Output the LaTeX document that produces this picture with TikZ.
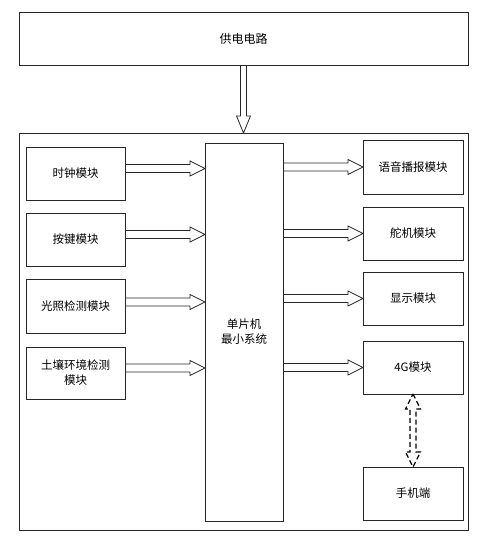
\documentclass[tikz,border=0pt]{standalone}
\usepackage{fontspec}
\newfontfamily\cjk{Noto Sans CJK SC}
\usetikzlibrary{calc}
\tikzset{
  box/.style={draw=black!85, line width=0.9pt, rectangle, inner sep=0pt, outer sep=0pt, align=center, font=\cjk\fontsize{11.5}{15}\selectfont},
  blockarrow/.style={draw=black!85, line width=0.8pt, line join=miter},
}
\newcommand\harrow[2]{\draw[blockarrow] let \p1=#1, \p2=#2 in (\x1,\y1+4pt) -- (\x2-15pt,\y1+4pt) -- (\x2-15pt,\y1+7.5pt) -- (\x2,\y1) -- (\x2-15pt,\y1-7.5pt) -- (\x2-15pt,\y1-4pt) -- (\x1,\y1-4pt);}
\begin{document}
\begin{tikzpicture}[x=1pt,y=-1pt]
\useasboundingbox (0,0) rectangle (481,538);
\node[box, minimum width=449pt, minimum height=53pt, font=\cjk\fontsize{12}{15}\selectfont] (power) at (243.5,38.5) {供电电路};
\node[box, minimum width=449pt, minimum height=397pt] (outer) at (243.5,331.5) {};
\node[box, minimum width=99pt, minimum height=53pt] (clk) at (75.5,173.5) {时钟模块};
\node[box, minimum width=99pt, minimum height=53pt] (key) at (75.5,239.5) {按键模块};
\node[box, minimum width=99pt, minimum height=54pt] (light) at (75.5,306) {光照检测模块};
\node[box, minimum width=99pt, minimum height=52pt] (soil) at (75.5,373) {土壤环境检测\\模块};
\node[box, minimum width=78pt, minimum height=378pt] (mcu) at (244,332) {单片机\\最小系统};
\node[box, minimum width=100pt, minimum height=54pt] (voice) at (413,167) {语音播报模块};
\node[box, minimum width=100pt, minimum height=53pt] (servo) at (413,233.5) {舵机模块};
\node[box, minimum width=100pt, minimum height=53pt] (disp) at (413,298.5) {显示模块};
\node[box, minimum width=100pt, minimum height=53pt] (g4) at (413,367.5) {4G模块};
\node[box, minimum width=100pt, minimum height=53pt] (phone) at (413,493.5) {手机端};
% power arrow
\draw[blockarrow] let \p1=(power.south), \p2=(outer.north) in
  (\x1-3pt,\y1) -- (\x1-3pt,\y2+17pt) -- (\x1-7pt,\y2+17pt) -- (\x1,\y2) -- (\x1+7pt,\y2+17pt) -- (\x1+3pt,\y2+17pt) -- (\x1+3pt,\y1);
% inputs
\harrow{($(clk.east)+(0,-5)$)}{($(mcu.west |- clk.east)+(0,-5)$)}
\harrow{($(key.east)+(0,-5)$)}{($(mcu.west |- key.east)+(0,-5)$)}
\harrow{($(light.east)+(0,-4)$)}{($(mcu.west |- light.east)+(0,-4)$)}
\harrow{($(soil.east)+(0,-5)$)}{($(mcu.west |- soil.east)+(0,-5)$)}
% outputs
\harrow{(mcu.east |- voice.west)}{(voice.west)}
\harrow{(mcu.east |- servo.west)}{(servo.west)}
\harrow{(mcu.east |- disp.west)}{(disp.west)}
\harrow{(mcu.east |- g4.west)}{(g4.west)}
% dashed double arrow
\draw[draw=black, line width=1.2pt, line join=miter, dash pattern=on 5pt off 3pt] let \p1=(g4.south), \p2=(phone.north) in
  (\x1,\y1) -- (\x1+7.5pt,\y1-15pt) -- (\x1+3pt,\y1-15pt) -- (\x1+3pt,\y2+15pt) -- (\x1+7.5pt,\y2+15pt) -- (\x1,\y2)
  -- (\x1-7.5pt,\y2+15pt) -- (\x1-3pt,\y2+15pt) -- (\x1-3pt,\y1-15pt) -- (\x1-7.5pt,\y1-15pt) -- cycle;
\end{tikzpicture}
\end{document}
